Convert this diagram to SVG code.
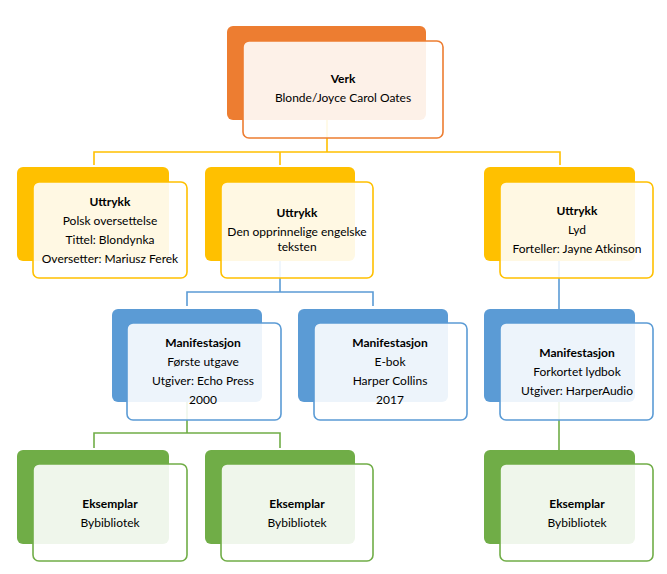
<svg xmlns="http://www.w3.org/2000/svg" width="667" height="574" viewBox="0 0 667 574">
<style>
text{font-family:Lato,"Liberation Sans",Arial,sans-serif;font-size:12px;fill:#000;text-anchor:middle}
.b{font-weight:bold}
.front{fill:#fff;fill-opacity:0.89;stroke-width:1.6}
.o .back{fill:#ED7D31}.o .front{stroke:#ED7D31}
.y .back{fill:#FFC000}.y .front{stroke:#FFC000}
.u .back{fill:#5B9BD5}.u .front{stroke:#5B9BD5}
.g .back{fill:#70AD47}.g .front{stroke:#70AD47}
.c{fill:none;stroke-width:1.6}
</style>
<rect width="667" height="574" fill="#fff"/>
<g id="connectors">
<path class="c" stroke="#FFC000" d="M327,120 V152 M94,165 V152 H560 V165 M280,152 V165"/>
<path class="c" stroke="#5B9BD5" d="M280,261 V292 M187,306 V292 H373 V306 M559,261 V309"/>
<path class="c" stroke="#70AD47" d="M187,402 V433 M94,448 V433 H280 V448 M559,402 V450"/>
</g>
<g id="verk" class="o">
<rect class="back" x="227" y="26" width="199" height="94" rx="6"/>
<rect class="front" x="243" y="41" width="200" height="97" rx="6"/>
<text class="b" x="343" y="83">Verk</text>
<text x="343" y="102">Blonde/Joyce Carol Oates</text>
</g>
<g id="uttrykk1" class="y">
<rect class="back" x="17" y="167" width="152" height="94" rx="6"/>
<rect class="front" x="33" y="182" width="154" height="96" rx="6"/>
<text class="b" x="110" y="206">Uttrykk</text>
<text x="110" y="225">Polsk oversettelse</text>
<text x="110" y="244">Tittel: Blondynka</text>
<text x="110" y="263">Oversetter: Mariusz Ferek</text>
</g>
<g id="uttrykk2" class="y">
<rect class="back" x="205" y="167" width="150" height="94" rx="6"/>
<rect class="front" x="221" y="182" width="152" height="96" rx="6"/>
<text class="b" x="297" y="217">Uttrykk</text>
<text x="297" y="236">Den opprinnelige engelske</text>
<text x="297" y="251">teksten</text>
</g>
<g id="uttrykk3" class="y">
<rect class="back" x="484" y="167" width="151" height="94" rx="6"/>
<rect class="front" x="500" y="182" width="153" height="96" rx="6"/>
<text class="b" x="577" y="215">Uttrykk</text>
<text x="577" y="234">Lyd</text>
<text x="577" y="253">Forteller: Jayne Atkinson</text>
</g>
<g id="manifestasjon1" class="u">
<rect class="back" x="112" y="309" width="150" height="93" rx="6"/>
<rect class="front" x="127" y="323" width="154" height="97" rx="6"/>
<text class="b" x="203" y="347">Manifestasjon</text>
<text x="203" y="366">Første utgave</text>
<text x="203" y="385">Utgiver: Echo Press</text>
<text x="203" y="404">2000</text>
</g>
<g id="manifestasjon2" class="u">
<rect class="back" x="298" y="309" width="150" height="93" rx="6"/>
<rect class="front" x="314" y="323" width="153" height="97" rx="6"/>
<text class="b" x="390" y="347">Manifestasjon</text>
<text x="390" y="366">E-bok</text>
<text x="390" y="385">Harper Collins</text>
<text x="390" y="404">2017</text>
</g>
<g id="manifestasjon3" class="u">
<rect class="back" x="484" y="309" width="151" height="93" rx="6"/>
<rect class="front" x="500" y="323" width="153" height="97" rx="6"/>
<text class="b" x="577" y="357">Manifestasjon</text>
<text x="577" y="376">Forkortet lydbok</text>
<text x="577" y="395">Utgiver: HarperAudio</text>
</g>
<g id="eksemplar1" class="g">
<rect class="back" x="17" y="450" width="152" height="94" rx="6"/>
<rect class="front" x="33" y="464" width="154" height="97" rx="6"/>
<text class="b" x="110" y="508">Eksemplar</text>
<text x="110" y="527">Bybibliotek</text>
</g>
<g id="eksemplar2" class="g">
<rect class="back" x="205" y="450" width="150" height="94" rx="6"/>
<rect class="front" x="221" y="464" width="152" height="97" rx="6"/>
<text class="b" x="297" y="508">Eksemplar</text>
<text x="297" y="527">Bybibliotek</text>
</g>
<g id="eksemplar3" class="g">
<rect class="back" x="484" y="450" width="151" height="94" rx="6"/>
<rect class="front" x="500" y="464" width="153" height="97" rx="6"/>
<text class="b" x="577" y="508">Eksemplar</text>
<text x="577" y="527">Bybibliotek</text>
</g>
</svg>
